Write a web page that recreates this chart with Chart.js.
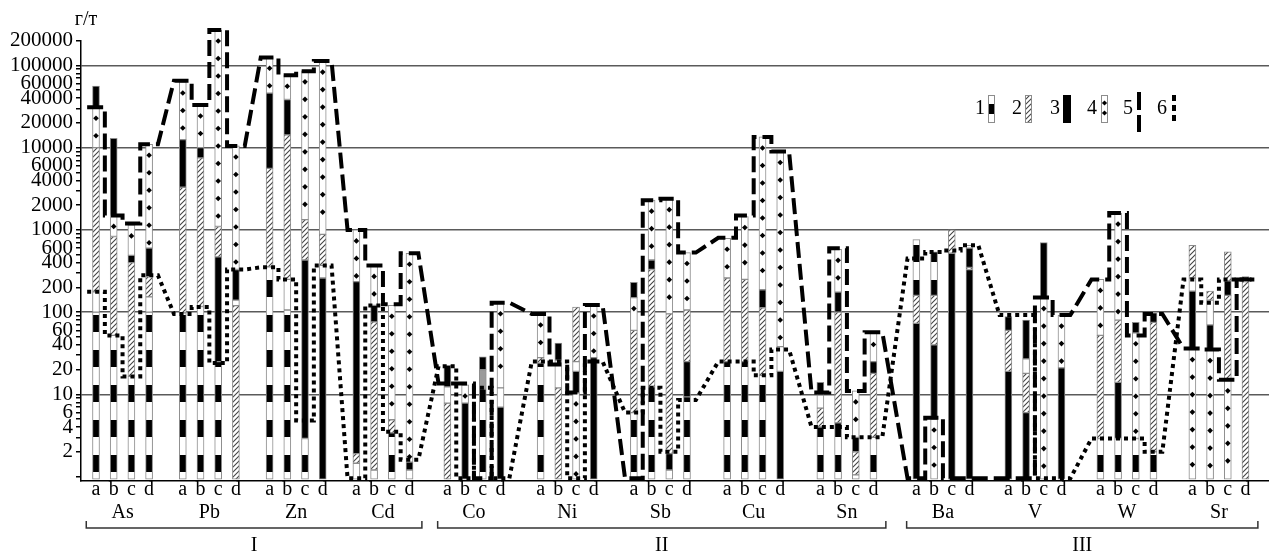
<!DOCTYPE html>
<html>
<head>
<meta charset="utf-8">
<script src="https://cdn.jsdelivr.net/npm/chart.js@4/dist/chart.umd.min.js"></script>
<style>
  html, body { margin: 0; padding: 0; background: #fff; }
</style>
</head>
<body>
<canvas id="chart" width="1269" height="553"></canvas>
<script>
// categories
const elements = ['As', 'Pb', 'Zn', 'Cd', 'Co', 'Ni', 'Sb', 'Cu', 'Sn', 'Ba', 'V', 'W', 'Sr'];
const samples = ['a', 'b', 'c', 'd'];
const groupNames = ['I', 'II', 'III'];
const groupSizes = [4, 5, 4];
const yLabels = [2, 4, 6, 10, 20, 40, 60, 100, 200, 400, 600, 1000, 2000, 4000, 6000,
    10000, 20000, 40000, 60000, 100000, 200000];

// bar segments [from, to, kind]
// kind: 0 blank, 1 banded, 2 hatched, 3 solid, 4 dotted, 5 grey
const B = 0.93;
const barsAs = [
    [[B, 100, 1], [100, 177, 0], [177, 10000, 2], [10000, 31000, 4], [31000, 56000, 3]],
    [[B, 52, 1], [52, 830, 2], [830, 1500, 4], [1500, 13000, 3]],
    [[B, 16.5, 1], [16.5, 400, 2], [400, 490, 3], [490, 1150, 4]],
    [[B, 100, 1], [100, 153, 0], [153, 270, 2], [270, 600, 3], [600, 11000, 4]]
];
const barsPb = [
    [[B, 98, 1], [98, 3300, 2], [3300, 12500, 3], [12500, 63000, 4]],
    [[B, 117, 1], [117, 7500, 2], [7500, 10000, 3], [10000, 33000, 4]],
    [[B, 25, 1], [25, 470, 3], [470, 1100, 2], [1100, 270000, 4]],
    [[B, 120, 2], [120, 140, 0], [140, 330, 3], [330, 10500, 4]]
];
const barsZn = [
    [[B, 355, 1], [355, 5600, 2], [5600, 46000, 3], [46000, 126000, 4]],
    [[B, 106, 1], [106, 250, 0], [250, 14300, 2], [14300, 38500, 3], [38500, 76000, 4]],
    [[B, 2.9, 1], [2.9, 430, 3], [430, 1330, 2], [1330, 86000, 4]],
    [[B, 260, 3], [260, 370, 0], [370, 880, 2], [880, 113000, 4]]
];
const barsCd = [
    [[B, 1.45, 0], [1.45, 1.9, 2], [1.9, 235, 3], [235, 1000, 4]],
    [[B, 1.2, 0], [1.2, 76, 2], [76, 121, 3], [121, 370, 4]],
    [[B, 3.4, 1], [3.4, 4.9, 2], [4.9, 121, 4]],
    [[B, 1.2, 0], [1.2, 1.5, 3], [1.5, 520, 4]]
];
const barsCo = [
    [[B, 7.8, 2], [7.8, 12.3, 0], [12.3, 22.5, 3]],
    [[B, 7.8, 3], [7.8, 13, 4]],
    [[B, 11.6, 1], [11.6, 20, 5], [20, 28.5, 3]],
    [[B, 7, 3], [7, 12, 0], [12, 130, 4]]
];
const barsNi = [
    [[B, 24, 1], [24, 28, 2], [28, 95, 4]],
    [[B, 12, 2], [12, 26, 0], [26, 42, 3]],
    [[B, 10.4, 4], [10.4, 19, 3], [19, 25, 0], [25, 115, 2]],
    [[B, 28, 3], [28, 122, 4]]
];
const barsSb = [
    [[B, 6, 1], [6, 60, 2], [60, 150, 4], [150, 230, 3]],
    [[B, 12.3, 1], [12.3, 330, 2], [330, 430, 3], [430, 2300, 4]],
    [[B, 1.2, 0], [1.2, 1.9, 3], [1.9, 95, 2], [95, 2400, 4]],
    [[B, 9.3, 1], [9.3, 25, 3], [25, 106, 2], [106, 530, 4]]
];
const barsCu = [
    [[B, 25, 1], [25, 260, 2], [260, 790, 4]],
    [[B, 25, 1], [25, 250, 2], [250, 1450, 4]],
    [[B, 17, 1], [17, 113, 2], [113, 187, 3], [187, 13500, 4]],
    [[B, 19, 3], [19, 38, 0], [38, 9000, 4]]
];
const barsSn = [
    [[B, 4, 1], [4, 6.8, 2], [6.8, 9.8, 4], [9.8, 14, 3]],
    [[B, 4.5, 1], [4.5, 100, 2], [100, 175, 3], [175, 580, 4]],
    [[B, 1.05, 0], [1.05, 2, 2], [2, 3, 3], [3, 11, 4]],
    [[B, 3, 1], [3, 18, 2], [18, 25, 3], [25, 55, 4]]
];
const barsBa = [
    [[B, 73, 3], [73, 160, 2], [160, 760, 1]],
    [[B, 5, 4], [5, 40, 3], [40, 160, 2], [160, 540, 1]],
    [[B, 520, 3], [520, 1000, 2]],
    [[B, 330, 3], [330, 350, 2], [350, 600, 3], [600, 650, 0]]
];
const barsV = [
    [[B, 19, 3], [19, 60, 2], [60, 88, 3]],
    [[B, 6, 3], [6, 18, 2], [18, 27, 0], [27, 80, 3]],
    [[B, 150, 4], [150, 700, 3]],
    [[B, 21, 3], [21, 92, 4]]
];
const barsW = [
    [[B, 2.9, 1], [2.9, 52, 2], [52, 250, 4]],
    [[B, 2.9, 1], [2.9, 14, 3], [14, 80, 2], [80, 1600, 4]],
    [[B, 2.9, 1], [2.9, 56, 4], [56, 75, 3]],
    [[B, 2, 1], [2, 75, 2], [75, 98, 3]]
];
const barsSr = [
    [[B, 36, 4], [36, 180, 3], [180, 260, 0], [260, 650, 2]],
    [[B, 35, 4], [35, 70, 3], [70, 140, 0], [140, 180, 2]],
    [[B, 15, 4], [15, 160, 2], [160, 240, 3], [240, 540, 2]],
    [[B, 235, 2], [235, 270, 3]]
];
const barSegments = [barsAs, barsPb, barsZn, barsCd, barsCo, barsNi, barsSb, barsCu,
    barsSn, barsBa, barsV, barsW, barsSr];

// line 5 (dashed) and line 6 (dotted), one value per bar, a..d for each element
const line5 = [
    31000, 1500, 1200, 11000,
    65000, 33000, 270000, 10500,
    125000, 76000, 85000, 113000,
    1000, 370, 125, 520,
    13.5, 13.5, 0.95, 130,
    95, 23, 10.5, 122,
    0.95, 2300, 2400, 530,
    800, 1500, 13500, 9000,
    10.5, 600, 11, 57,
    0.95, 5.2, 0.95, 0.95,
    0.95, 0.95, 150, 92,
    250, 1600, 52, 95,
    36, 35, 15, 250
];
const line6 = [
    177, 52, 16.5, 280,
    95, 115, 24, 330,
    350, 250, 4.8, 370,
    0.95, 120, 3.5, 1.6,
    22, 0.95, 12, 0.95,
    25, 25, 0.95, 25,
    6, 12, 2, 8.5,
    25, 25, 17, 35,
    4, 4, 3, 3,
    450, 540, 560, 650,
    92, 92, 0.95, 0.95,
    2.9, 2.9, 2.9, 2,
    250, 130, 250, 250
];

// layout: element spacing inside each of I, II, III and the step between them (bar = 1 unit)
const innerStep = [4.904, 5.268, 5.198];
const outerStep = [5.141, 5.424];
const centers = [];
{
    let pos = 1.5, g = 0;
    groupSizes.forEach((n, s) => {
        for (let j = 0; j < n; j++) {
            centers.push(pos);
            g++;
            if (j < n - 1) pos += innerStep[s];
        }
        if (s < outerStep.length) pos += outerStep[s];
    });
}
const barX = (g, k) => centers[g] + k - 1.5;
const FONT = '"Liberation Serif", "Times New Roman", serif';

function makePattern(w, h, draw) {
    const c = document.createElement('canvas');
    c.width = w;
    c.height = h;
    const g = c.getContext('2d');
    draw(g);
    return g.createPattern(c, 'repeat');
}

const banded = makePattern(8, 35, g => {
    g.fillStyle = '#fff';
    g.fillRect(0, 0, 8, 35);
    g.fillStyle = '#000';
    g.fillRect(0, 0, 8, 17);
});

const hatched = makePattern(5, 5, g => {
    g.fillStyle = '#fff';
    g.fillRect(0, 0, 5, 5);
    g.strokeStyle = '#444';
    g.lineWidth = 1.1;
    g.beginPath();
    g.moveTo(-1, 6); g.lineTo(6, -1);
    g.moveTo(-1, 1); g.lineTo(1, -1);
    g.moveTo(4, 6); g.lineTo(6, 4);
    g.stroke();
});

const kindFill = ['#fff', banded, hatched, '#000', '#fff', '#9a9a9a'];

// one bar dataset per fill kind
const barDatasets = kindFill.map((fill, kind) => ({
    type: 'bar',
    kind: kind,
    data: [],
    backgroundColor: fill,
    borderColor: '#8c8c8c',
    borderWidth: 1,
    borderSkipped: false,
    barThickness: 7,
    grouped: false,
    clip: false,
    order: 2
}));

barSegments.forEach((bars, g) => {
    bars.forEach((segs, k) => {
        segs.forEach(([lo, hi, kind]) => {
            barDatasets[kind].data.push({ x: barX(g, k), y: [lo, hi] });
        });
    });
});

function stepPoints(values) {
    const pts = [];
    values.forEach((v, i) => {
        const x = barX(Math.floor(i / 4), i % 4);
        pts.push({ x: x - 0.5, y: v }, { x: x + 0.5, y: v });
    });
    return pts;
}

const lineDatasets = [
    {
        type: 'line',
        data: stepPoints(line5),
        borderColor: '#000',
        borderWidth: 4,
        borderDash: [16, 6],
        pointRadius: 0,
        fill: false,
        tension: 0,
        clip: false,
        order: 0
    },
    {
        type: 'line',
        data: stepPoints(line6),
        borderColor: '#000',
        borderWidth: 4,
        borderDash: [4, 4],
        pointRadius: 0,
        fill: false,
        tension: 0,
        clip: false,
        order: 1
    }
];

function diamond(ctx, x, y, r) {
    ctx.beginPath();
    ctx.moveTo(x, y - r);
    ctx.lineTo(x + r, y);
    ctx.lineTo(x, y + r);
    ctx.lineTo(x - r, y);
    ctx.closePath();
    ctx.fill();
}

// diamonds inside the dotted segments
const dotsPlugin = {
    id: 'dots',
    afterDatasetDraw(chart, args) {
        const ds = chart.data.datasets[args.index];
        if (ds.kind !== 4) return;
        const ctx = chart.ctx;
        ctx.save();
        ctx.fillStyle = '#000';
        args.meta.data.forEach(bar => {
            const { x, y, base } = bar.getProps(['x', 'y', 'base'], true);
            const top = Math.min(y, base);
            const bottom = Math.max(y, base);
            for (let yy = top + 11; yy < bottom - 5; yy += 17.5) {
                diamond(ctx, x, yy, 2.8);
            }
        });
        ctx.restore();
    }
};

// x labels, brackets, unit and legend
const decorPlugin = {
    id: 'decor',
    afterDraw(chart) {
        const { ctx } = chart;
        const x = chart.scales.x;
        ctx.save();
        ctx.fillStyle = '#000';
        ctx.textAlign = 'center';
        ctx.textBaseline = 'middle';
        ctx.font = '20px ' + FONT;

        elements.forEach((el, g) => {
            samples.forEach((s, k) => ctx.fillText(s, x.getPixelForValue(barX(g, k)), 490));
            ctx.fillText(el, x.getPixelForValue(barX(g, 1.5)), 513);
        });

        let start = 0;
        ctx.strokeStyle = '#333';
        ctx.lineWidth = 1.5;
        groupSizes.forEach((n, i) => {
            const x0 = x.getPixelForValue(barX(start, 0) - 0.55);
            const x1 = x.getPixelForValue(barX(start + n - 1, 3) + 0.7);
            ctx.beginPath();
            ctx.moveTo(x0, 521);
            ctx.lineTo(x0, 528);
            ctx.lineTo(x1, 528);
            ctx.lineTo(x1, 521);
            ctx.stroke();
            ctx.fillText(groupNames[i], (x0 + x1) / 2, 546);
            start += n;
        });

        ctx.fillText('г/т', 86, 20);

        // legend
        const ly = 109;
        const items = [
            { n: '1', tx: 980 },
            { n: '2', tx: 1017 },
            { n: '3', tx: 1055 },
            { n: '4', tx: 1092 },
            { n: '5', tx: 1128 },
            { n: '6', tx: 1162 }
        ];
        items.forEach(it => ctx.fillText(it.n, it.tx, ly));

        ctx.lineWidth = 1;
        ctx.strokeStyle = '#8c8c8c';
        // 1 banded
        ctx.fillStyle = '#fff';
        ctx.fillRect(988, 95, 7, 28);
        ctx.fillStyle = '#000';
        ctx.fillRect(988, 104, 7, 10);
        ctx.strokeRect(988.5, 95.5, 6, 27);
        // 2 hatched
        ctx.fillStyle = hatched;
        ctx.fillRect(1025, 95, 7, 28);
        ctx.strokeRect(1025.5, 95.5, 6, 27);
        // 3 solid
        ctx.fillStyle = '#000';
        ctx.fillRect(1063, 95, 8, 28);
        // 4 dotted
        ctx.fillStyle = '#fff';
        ctx.fillRect(1101, 95, 7, 28);
        ctx.strokeRect(1101.5, 95.5, 6, 27);
        ctx.fillStyle = '#000';
        diamond(ctx, 1104.5, 103, 2.6);
        diamond(ctx, 1104.5, 113, 2.6);
        // 5 dashed
        ctx.fillRect(1137, 92, 4, 18);
        ctx.fillRect(1137, 115, 4, 17);
        // 6 dotted
        ctx.fillRect(1172, 95, 4, 6);
        ctx.fillRect(1172, 105, 4, 6);
        ctx.fillRect(1172, 115, 4, 6);
        ctx.restore();
    }
};

const yTicks = [];
[1, 10, 100, 1000, 10000].forEach(d => {
    for (let m = 1; m <= 9; m++) yTicks.push(m * d);
});
yTicks.push(100000, 200000);

// 1 unit = 17.7 px, first bar (As a) at 96 px, plot from 81 px to the right edge
const xMin = (81 - 96) / 17.7;
const xMax = (1269 - 96) / 17.7;

new Chart(document.getElementById('chart'), {
    data: { datasets: [...lineDatasets, ...barDatasets] },
    options: {
        responsive: false,
        animation: false,
        devicePixelRatio: 1,
        layout: { padding: { top: 40.7, right: 0, bottom: 0, left: 0 } },
        plugins: {
            legend: { display: false },
            tooltip: { enabled: false }
        },
        scales: {
            x: {
                type: 'linear',
                offset: false,
                min: xMin,
                max: xMax,
                grid: { display: false, offset: false },
                ticks: { display: false },
                border: { display: true, color: '#000', width: 1.5 },
                afterFit: s => { s.height = 72.7; }
            },
            y: {
                type: 'logarithmic',
                min: 0.9,
                max: 200000,
                afterBuildTicks: s => { s.ticks = yTicks.map(v => ({ value: v })); },
                afterFit: s => { s.width = 81; },
                ticks: {
                    autoSkip: false,
                    padding: 3,
                    color: '#000',
                    font: { family: FONT, size: 21 },
                    callback: v => (yLabels.includes(v) ? String(v) : '')
                },
                grid: {
                    color: c => {
                        const v = c.tick ? c.tick.value : 0;
                        return [10, 100, 1000, 10000, 100000].includes(v) ? '#5a5a5a' : 'rgba(0,0,0,0)';
                    },
                    lineWidth: 1.5,
                    tickColor: '#000',
                    tickLength: 5,
                    drawTicks: true
                },
                border: { display: true, color: '#000', width: 1.5 }
            }
        }
    },
    plugins: [dotsPlugin, decorPlugin]
});
</script>
</body>
</html>
